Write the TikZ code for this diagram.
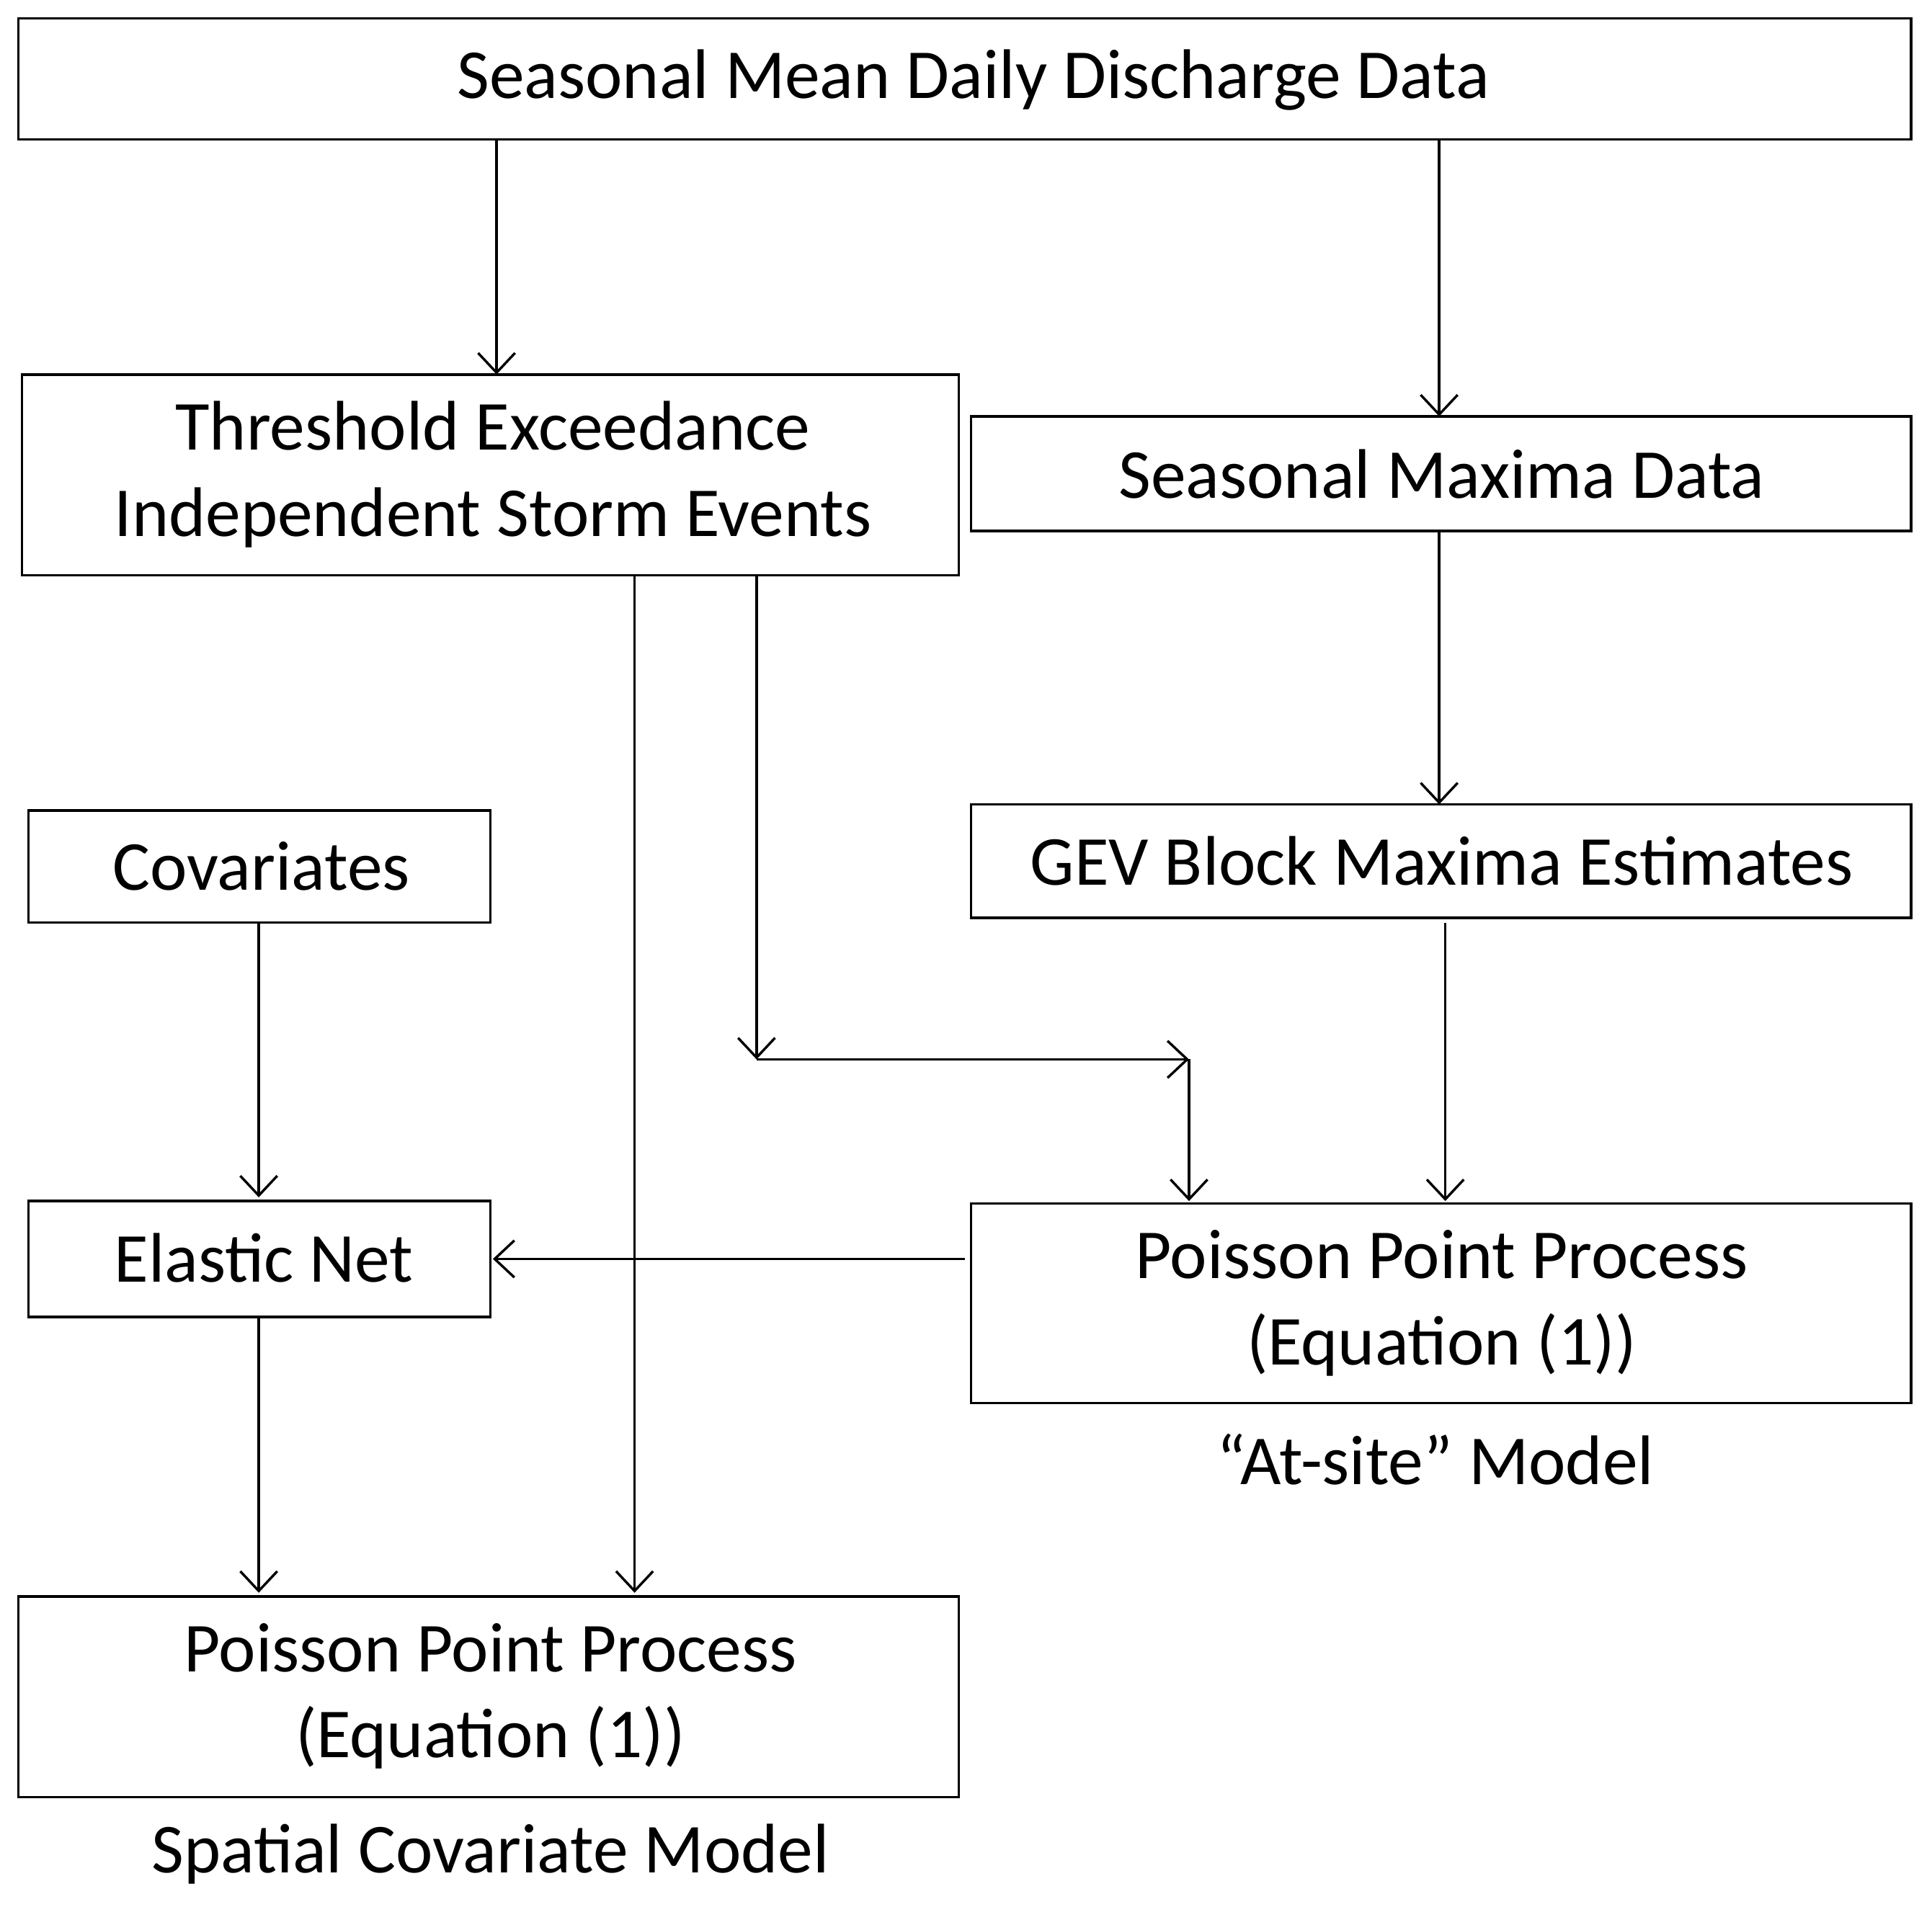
\documentclass[tikz,border=0pt]{standalone}
\usepackage{fontspec}
\setmainfont{Carlito}
\usetikzlibrary{arrows.meta}
\begin{document}
\begin{tikzpicture}[x=1pt,y=-1pt,
  box/.style={draw,line width=2pt,inner sep=0pt},
  txt/.style={font=\fontsize{57}{70}\selectfont,align=center},
  arr/.style={line width=2pt,-{Straight Barb[length=16pt,width=30pt,line width=2pt]}}]
\useasboundingbox (0,0) rectangle (1568,1548);
\fill[white] (0,0) rectangle (1568,1548);
\draw[box] (15,15) rectangle (1551,113);
\node[txt] (top) at (790,65) {Seasonal Mean Daily Discharge Data};
\draw[box] (18,304) rectangle (778,467);
\node[txt] (thr) at (400,385) {Threshold Exceedance\\Independent Storm Events};
\draw[box] (788,338) rectangle (1551,431);
\node[txt] (smax) at (1170,385) {Seasonal Maxima Data};
\draw[box] (23,658) rectangle (398,749);
\node[txt] (cov) at (212,703) {Covariates};
\draw[box] (788,653) rectangle (1551,745);
\node[txt] (gev) at (1170,699) {GEV Block Maxima Estimates};
\draw[box] (23,975) rectangle (398,1069);
\node[txt] (en) at (214,1021) {Elastic Net};
\draw[box] (788,977) rectangle (1551,1139);
\node[txt] (p1) at (1170,1058) {Poisson Point Process\\(Equation (1))};
\node[txt] (l1) at (1165,1185) {“At-site” Model};
\draw[box] (15,1296) rectangle (778,1459);
\node[txt] (p2) at (398,1377) {Poisson Point Process\\(Equation (1))};
\node[txt] (l2) at (398,1505) {Spatial Covariate Model};
\coordinate (a) at (614,860);
\coordinate (b) at (965,860);
\draw[arr] (403,113) -- (403,304);
\draw[arr] (1168,113) -- (1168,338);
\draw[arr] (1168,431) -- (1168,653);
\draw[arr] (515,467) -- (515,1293);
\draw[arr] (614,467) -- (a);
\draw[arr] (a) -- (b);
\draw[arr] (b) -- (965,975);
\draw[arr] (1173,749) -- (1173,975);
\draw[arr] (210,749) -- (210,972);
\draw[arr] (783,1022) -- (400,1022);
\draw[arr] (210,1069) -- (210,1293);
\end{tikzpicture}
\end{document}
